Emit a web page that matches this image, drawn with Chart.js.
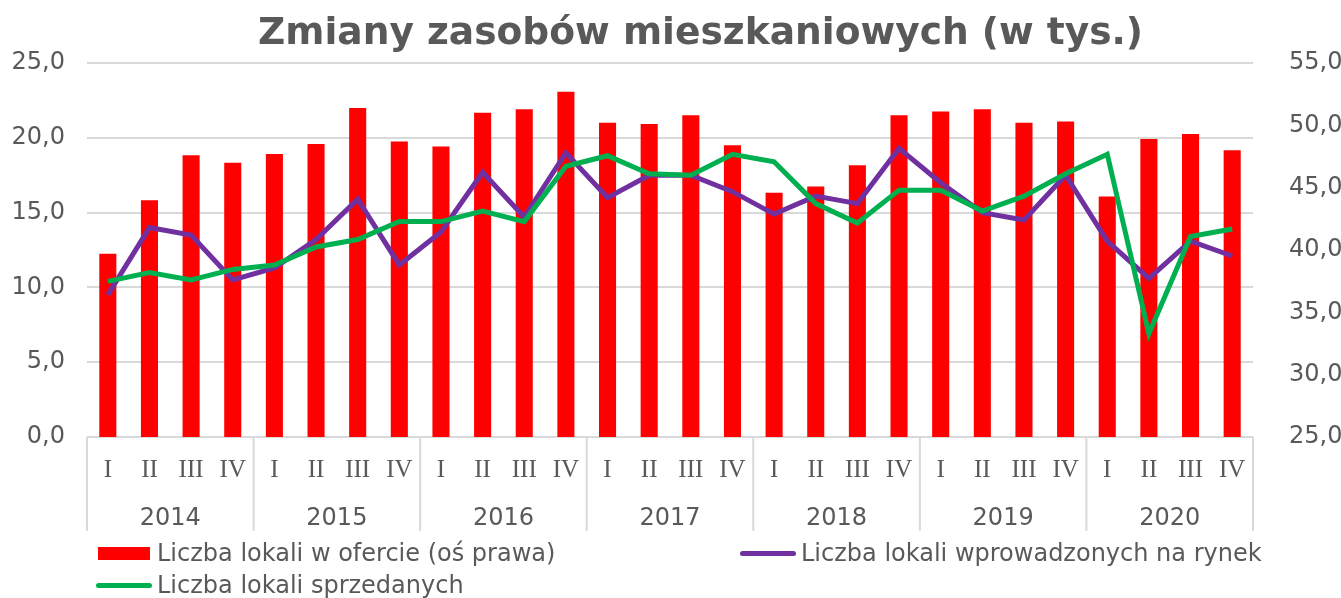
<!DOCTYPE html>
<html>
<head>
<meta charset="utf-8">
<script src="https://cdn.jsdelivr.net/npm/chart.js@4"></script>
<style>
  body { margin: 0; overflow: hidden; background: #fff; }
  #wrap { position: relative; width: 1360px; height: 598px; }
  #title {
    position: absolute; left: 0; top: 13px; width: 1401px; text-align: center;
    font: bold 37.6px "DejaVu Sans"; line-height: 1; color: #595959;
  }
  .leg {
    position: absolute; display: flex; align-items: center; height: 26px;
    font: 24px "DejaVu Sans"; line-height: 26px; color: #595959; white-space: nowrap;
  }
</style>
</head>
<body>
<div id="wrap">
  <canvas id="chart" width="1360" height="598"></canvas>
  <div id="title">Zmiany zasobów mieszkaniowych (w tys.)</div>
</div>
<script>
// Data
const quarters = ["I", "II", "III", "IV"];
const years = ["2014", "2015", "2016", "2017", "2018", "2019", "2020"];
const labels = years.flatMap(() => quarters);

// right axis (thousands)
const offerCount = [39.7, 44.0, 47.6, 47.0, 47.7, 48.5, 51.4, 48.7, 48.3, 51.0, 51.3, 52.7, 50.2, 50.1,
  50.8, 48.4, 44.6, 45.1, 46.8, 50.8, 51.1, 51.3, 50.2, 50.3, 44.3, 48.9, 49.3, 48.0];
// left axis (thousands)
const introducedCount = [9.5, 14.0, 13.5, 10.5, 11.3, 13.2, 15.9, 11.5, 13.7, 17.7, 14.7, 19.0, 16.0, 17.5,
  17.5, 16.4, 14.9, 16.1, 15.6, 19.3, 17.0, 15.0, 14.5, 17.5, 13.1, 10.6, 13.1, 12.1];
const soldCount = [10.4, 11.0, 10.5, 11.2, 11.5, 12.7, 13.2, 14.4, 14.4, 15.1, 14.4, 18.1, 18.8, 17.6,
  17.5, 18.9, 18.4, 15.6, 14.3, 16.5, 16.5, 15.1, 16.1, 17.6, 18.9, 6.9, 13.4, 13.9];

const textColor = "#595959";
const gridColor = "#d9d9d9";
const fmt = (v) => v.toFixed(1).replace(".", ",");

// Draw the year separator lines below the plot
const yearSeparators = {
  id: "yearSeparators",
  afterDraw(chart) {
    const { ctx, chartArea } = chart;
    const x = chart.scales.x;
    ctx.save();
    ctx.strokeStyle = gridColor;
    ctx.lineWidth = 2;
    for (let k = 0; k <= years.length; k++) {
      let px;
      if (k === 0) px = chartArea.left;
      else if (k === years.length) px = chartArea.right;
      else px = (x.getPixelForValue(4 * k - 1) + x.getPixelForValue(4 * k)) / 2;
      ctx.beginPath();
      ctx.moveTo(px, chartArea.bottom);
      ctx.lineTo(px, 531);
      ctx.stroke();
    }
    ctx.restore();
  },
};

const chart = new Chart(document.getElementById("chart"), {
  type: "bar",
  data: {
    labels: labels,
    datasets: [
      {
        label: "Liczba lokali w ofercie (oś prawa)",
        data: offerCount,
        backgroundColor: "#ff0000",
        yAxisID: "y1",
        barPercentage: 0.41,
        categoryPercentage: 1,
        order: 3,
      },
      {
        type: "line",
        label: "Liczba lokali wprowadzonych na rynek",
        data: introducedCount,
        borderColor: "#7030a0",
        backgroundColor: "#7030a0",
        borderWidth: 5,
        pointRadius: 0,
        tension: 0,
        yAxisID: "y",
        order: 2,
      },
      {
        type: "line",
        label: "Liczba lokali sprzedanych",
        data: soldCount,
        borderColor: "#00b050",
        backgroundColor: "#00b050",
        borderWidth: 5,
        pointRadius: 0,
        tension: 0,
        yAxisID: "y",
        order: 1,
      },
    ],
  },
  options: {
    responsive: false,
    animation: false,
    layout: { padding: { top: 63, bottom: 58, left: 0, right: 0 } },
    plugins: {
      legend: { display: false },
      title: { display: false },
      tooltip: { enabled: false },
    },
    scales: {
      x: {
        weight: 0,
        grid: { display: false, drawTicks: false },
        border: { display: false },
        ticks: {
          color: textColor,
          font: { family: "Liberation Serif", size: 25 },
          autoSkip: false,
          maxRotation: 0,
          padding: 18,
        },
        afterFit: (s) => { s.height = 55; },
      },
      year: {
        type: "category",
        labels: years,
        position: "bottom",
        offset: true,
        weight: 1,
        grid: { display: false, drawTicks: false },
        border: { display: false },
        ticks: {
          color: textColor,
          font: { family: "DejaVu Sans", size: 24 },
          autoSkip: false,
          maxRotation: 0,
          padding: 12,
        },
        afterFit: (s) => { s.height = 48; },
      },
      y: {
        position: "left",
        min: 0,
        max: 25,
        grid: { color: gridColor, lineWidth: 2, drawTicks: false },
        border: { display: false },
        ticks: {
          stepSize: 5,
          color: textColor,
          font: { family: "DejaVu Sans", size: 24 },
          padding: 22,
          callback: fmt,
        },
        afterFit: (s) => { s.width = 87; },
      },
      y1: {
        position: "right",
        min: 25,
        max: 55,
        grid: { drawOnChartArea: false, drawTicks: false },
        border: { display: false },
        ticks: {
          stepSize: 5,
          color: textColor,
          font: { family: "DejaVu Sans", size: 24 },
          padding: 36,
          callback: fmt,
        },
        afterFit: (s) => { s.width = 107; },
      },
    },
  },
  plugins: [yearSeparators],
});

// HTML legend built from the datasets
const legendSpots = [
  { left: 98, top: 540 },
  { left: 740, top: 540 },
  { left: 96, top: 572 },
];
const wrap = document.getElementById("wrap");
chart.data.datasets.forEach((ds, i) => {
  const item = document.createElement("div");
  item.className = "leg";
  item.style.left = legendSpots[i].left + "px";
  item.style.top = legendSpots[i].top + "px";
  const sw = document.createElement("span");
  if (ds.type === "line") {
    sw.style.cssText = `display:inline-block;width:56px;height:5px;border-radius:3px;background:${ds.borderColor};margin-right:5px`;
  } else {
    sw.style.cssText = `display:inline-block;width:52px;height:13px;background:${ds.backgroundColor};margin-right:7px`;
  }
  const txt = document.createElement("span");
  txt.textContent = ds.label;
  item.appendChild(sw);
  item.appendChild(txt);
  wrap.appendChild(item);
});
</script>
</body>
</html>
